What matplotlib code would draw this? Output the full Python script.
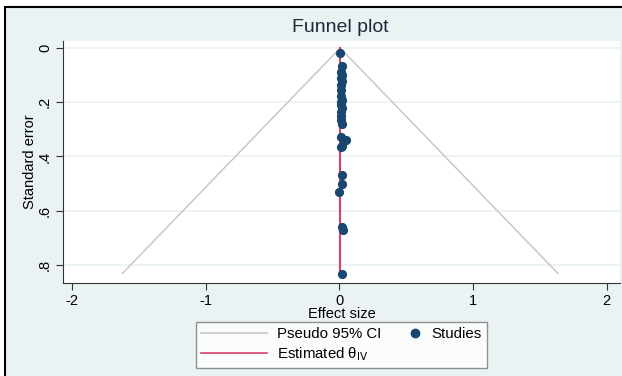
import numpy as np
import matplotlib.pyplot as plt
from matplotlib.patches import Rectangle
from matplotlib.lines import Line2D
from matplotlib.legend_handler import HandlerBase

plt.rcParams['font.family'] = ['Liberation Sans', 'DejaVu Sans']

# studies
se = [0.02, 0.065, 0.088, 0.10, 0.11, 0.12, 0.135, 0.155, 0.178, 0.19, 0.20,
      0.21, 0.22, 0.235, 0.25, 0.265, 0.28, 0.33, 0.34, 0.36, 0.365, 0.467,
      0.50, 0.53, 0.66, 0.672, 0.832]
effect = [0.002, 0.015, 0.012, 0.015, 0.010, 0.015, 0.012, 0.010, 0.010, 0.015,
          0.012, 0.010, 0.015, 0.012, 0.010, 0.012, 0.015, 0.012, 0.050, 0.020,
          0.008, 0.015, 0.020, -0.005, 0.020, 0.025, 0.018]
theta = 0.005
se_max = 0.832
xticks = [-2, -1, 0, 1, 2]
yticks = [0, 0.2, 0.4, 0.6, 0.8]
ylabels = ['0', '.2', '.4', '.6', '.8']

bg = '#EAF2F3'
navy = '#1A476F'
red = '#D6406A'
grey = '#C8C8C8'

fig = plt.figure(figsize=(6.22, 3.76), dpi=100)
fig.patch.set_facecolor('white')
# outer frame (image is cropped on the right and bottom)
fig.patches.append(Rectangle((5/622, -0.01), 1.02, (376-7)/376 + 0.01,
                             transform=fig.transFigure, facecolor=bg,
                             edgecolor='black', linewidth=1.5, zorder=-5))

ax = fig.add_axes([63/622, 1-283/376, (620-63)/622, (283-41)/376])
ax.set_facecolor('white')

# pseudo 95% CI funnel
z = 1.96
ax.plot([theta - z*se_max, theta, theta + z*se_max], [se_max, 0, se_max],
        color=grey, lw=1.1, zorder=2)
ax.plot([theta, theta], [0, se_max], color=red, lw=1.5, zorder=3)
ax.scatter(effect, se, s=44, color=navy, zorder=4, linewidths=0)

ax.set_xlim(-2.07, 2.1)
ax.set_ylim(0.867, -0.026)
ax.set_xticks(xticks)
ax.set_xticklabels([str(v) for v in xticks])
ax.set_yticks(yticks)
ax.set_yticklabels(ylabels, rotation=90, va='center')
ax.tick_params(labelsize=10.5, length=5, color='#333333', width=0.8, pad=3)
ax.grid(axis='y', color=bg, lw=1.2)
ax.set_axisbelow(True)
for s in ['top', 'right']:
    ax.spines[s].set_visible(False)
for s in ['left', 'bottom']:
    ax.spines[s].set_color('#333333')
    ax.spines[s].set_linewidth(0.8)

ax.set_xlabel('Effect size', fontsize=10.5, labelpad=-1)
ax.set_ylabel('Standard error', fontsize=10.5, labelpad=1)
fig.text(340/622, 1-28/376, 'Funnel plot', ha='center', va='center',
         fontsize=14, color='#1E2A3A')


class RightDot(HandlerBase):
    # marker sits at the right end of the handle box, Stata style
    def create_artists(self, legend, orig_handle, xdescent, ydescent,
                       width, height, fontsize, trans):
        m = Line2D([width - xdescent - 4], [height/2 - ydescent], marker='o',
                   ls='', color=navy, markersize=6)
        m.set_transform(trans)
        return [m]


dot = Line2D([], [], marker='o', ls='', color=navy)
handles = [Line2D([], [], color=grey, lw=1.2),
           Line2D([], [], color=red, lw=1.2),
           dot]
labels = ['Pseudo 95% CI', 'Estimated θ$_{\\rm IV}$', 'Studies']
leg = fig.legend(handles, labels, ncol=2, loc='center',
                 bbox_to_anchor=(341/622, 1-345/376), fontsize=10.8,
                 frameon=True, fancybox=False, edgecolor='#777777',
                 handlelength=4.4, columnspacing=-1.8, handletextpad=0.7,
                 borderpad=0.35, labelspacing=0.25,
                 handler_map={dot: RightDot()})
leg.get_frame().set_linewidth(1.0)

fig.savefig('out.png', dpi=100, facecolor=fig.get_facecolor())
